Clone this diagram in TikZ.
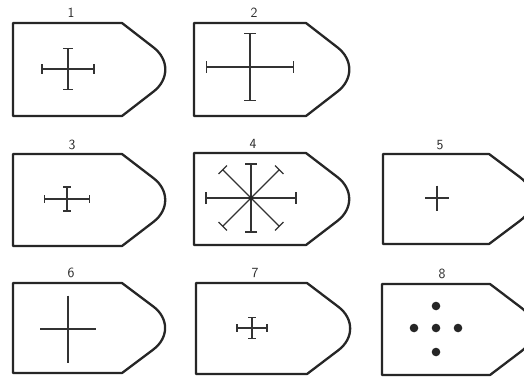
\documentclass[tikz,border=0pt]{standalone}
\usetikzlibrary{calc}
\tikzset{
  shield/.style={line width=2.3pt, draw=black!85, line join=round},
  crossline/.style={line width=1.3pt, draw=black!80},
  lbl/.style={font=\sffamily\fontsize{14}{14}\selectfont, inner sep=0pt, text=black!85},
  dotmark/.style={fill=black!85}
}
% name, left, top, right-corner x, bottom
\newcommand\shieldbox[5]{%
  \coordinate (#1tl) at (#2,#3);
  \coordinate (#1tr) at (#4,#3);
  \coordinate (#1ap) at ({#4+60},{(#3+#5)/2});
  \coordinate (#1br) at (#4,#5);
  \coordinate (#1bl) at (#2,#5);
  \coordinate (#1p) at ($(#1ap)!36pt!(#1tr)$);
  \coordinate (#1q) at ($(#1ap)!36pt!(#1br)$);
  \draw[shield] (#1tl) -- (#1tr) -- (#1p)
     .. controls ($(#1ap)!0.45!(#1p)$) and ($(#1ap)!0.45!(#1q)$) .. (#1q)
     -- (#1br) -- (#1bl) -- cycle;
}
% cx, cy, half width, half height, serif half length
\newcommand\crossmark[5]{%
  \draw[crossline] ({#1-#3},#2) -- ({#1+#3},#2)
                   (#1,{#2-#4}) -- (#1,{#2+#4});
  \draw[crossline] ({#1-#3},{#2-#5}) -- ({#1-#3},{#2+#5})
                   ({#1+#3},{#2-#5}) -- ({#1+#3},{#2+#5})
                   ({#1-#5},{#2-#4}) -- ({#1+#5},{#2-#4})
                   ({#1-#5},{#2+#4}) -- ({#1+#5},{#2+#4});
}
\newcommand\plainmark[4]{%
  \draw[crossline] ({#1-#3},#2) -- ({#1+#3},#2)
                   (#1,{#2-#4}) -- (#1,{#2+#4});
}
\begin{document}
\begin{tikzpicture}[x=1pt,y=-1pt]
\useasboundingbox (0,0) rectangle (524,381);
\fill[white] (0,0) rectangle (524,381);

% shields
\shieldbox{s1}{13}{23}{122}{116}
\shieldbox{s2}{194}{23}{306}{116}
\shieldbox{s3}{13}{154}{122}{246}
\shieldbox{s4}{194}{153}{306}{245}
\shieldbox{s5}{383}{154}{489}{244}
\shieldbox{s6}{13}{283}{122}{373}
\shieldbox{s7}{196}{283}{307}{374}
\shieldbox{s8}{382}{284}{490}{375}

% labels
\node[lbl] (l1) at (71,13) {1};
\node[lbl] (l2) at (254,13) {2};
\node[lbl] (l3) at (72,145) {3};
\node[lbl] (l4) at (253,144) {4};
\node[lbl] (l5) at (440,145) {5};
\node[lbl] (l6) at (71,273) {6};
\node[lbl] (l7) at (255,273) {7};
\node[lbl] (l8) at (442,274) {8};

% crosses
\crossmark{68}{69}{26}{20.5}{5}
\crossmark{250}{67}{43.5}{33.5}{6}
\crossmark{67}{199}{22.5}{12}{4}
\plainmark{437}{198}{12}{12.5}
\plainmark{68}{329}{28}{33.5}
\crossmark{252}{328}{15}{10.5}{4}

% star (4)
\foreach \ang/\len in {0/45,90/34,180/45,270/34,45/40,135/40,225/40,315/40}{
  \draw[crossline,shift={(251,198)},rotate=\ang] (0,0) -- (\len,0) (\len,-6) -- (\len,6);
}
\fill[black!85] (251,198) circle (2.2);

% dots (8)
\foreach \dx/\dy in {0/0,-22/0,22/0,0/-22,0/24}{
  \fill[dotmark] ({436+\dx},{328+\dy}) circle (4.3);
}
\end{tikzpicture}
\end{document}
